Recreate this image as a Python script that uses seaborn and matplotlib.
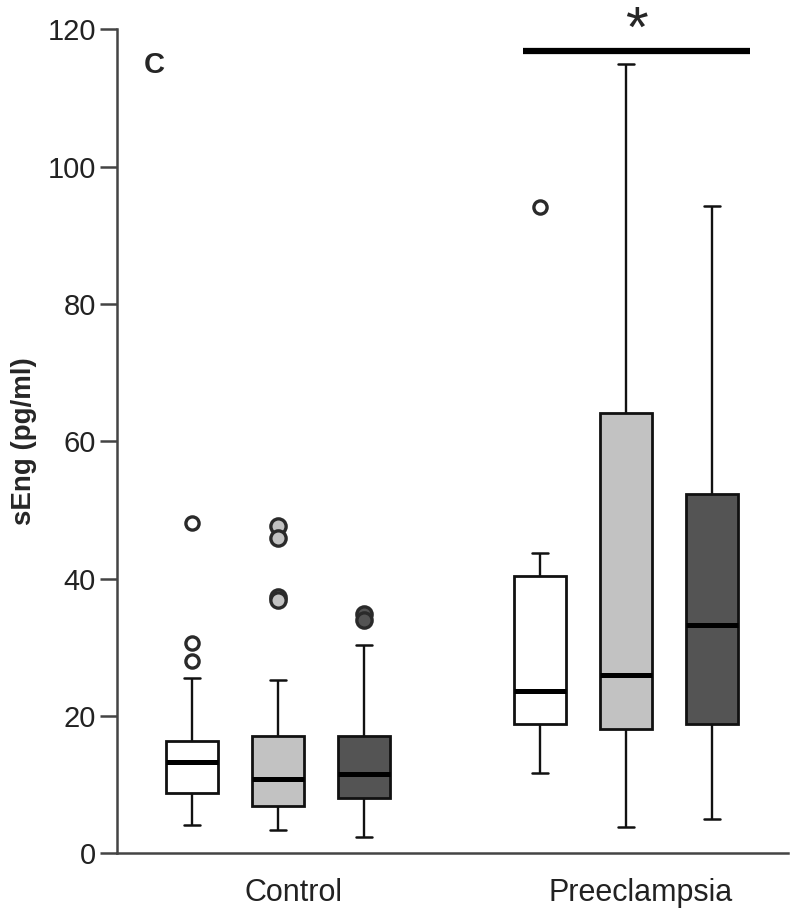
import pandas as pd
import matplotlib.pyplot as plt
import matplotlib.transforms as mtransforms
import seaborn as sns

# groups on the x axis and the three shaded series inside each group
groups = ['Control', 'Preeclampsia']
levels = ['A', 'B', 'C']
colors = ['#ffffff', '#c2c2c2', '#545454']

# five-number summaries: whisker low, q1, median, q3, whisker high
control_stats = [
    [4.1, 8.8, 13.3, 16.4, 25.6],
    [3.4, 6.9, 10.8, 17.1, 25.3],
    [2.4, 8.0, 11.5, 17.1, 30.3],
]
pe_stats = [
    [11.7, 18.8, 23.7, 40.4, 43.8],
    [3.8, 18.1, 25.9, 64.2, 115.0],
    [5.0, 18.8, 33.3, 52.4, 94.3],
]

# outliers drawn as open circles
control_outliers = [[48.1, 30.6, 28.0], [47.6, 45.9, 37.4, 36.9], [34.8, 34.0]]
pe_outliers = [[94.2], [], []]
marker_sizes = [9.5, 11, 11]

# significance bar over the preeclampsia group
sig_x = [0.704, 1.356]
sig_y = 116.8

rows = []
for g, stats in zip(groups, [control_stats, pe_stats]):
    for lev, s in zip(levels, stats):
        for v in s:
            rows.append((g, lev, v))
df = pd.DataFrame(rows, columns=['group', 'level', 'value'])

sns.set_style('ticks')
plt.rcParams['font.family'] = ['Liberation Sans', 'DejaVu Sans']

fig = plt.figure(figsize=(8, 9.19), dpi=100)
ax = fig.add_axes([0.146, 0.0715, 0.839, 0.8965])

sns.boxplot(data=df, x='group', y='value', hue='level', order=groups, hue_order=levels,
            palette=colors, saturation=1, width=0.742, gap=0.39, whis=(0, 100),
            linewidth=2.0, linecolor='#111111', legend=False, ax=ax,
            medianprops=dict(linewidth=3.6, color='black'),
            whiskerprops=dict(linewidth=1.7), capprops=dict(linewidth=1.8),
            capwidths=0.048)

# put outliers at the centre of each drawn box
boxes = sorted(ax.patches, key=lambda p: p.get_path().vertices[:, 0].min())
for box, vals, fc, ms in zip(boxes, control_outliers + pe_outliers, colors * 2, marker_sizes * 2):
    if not vals:
        continue
    xs = box.get_path().vertices[:, 0]
    xc = (xs.min() + xs.max()) / 2
    ax.plot([xc] * len(vals), vals, 'o', mfc=fc, mec='#2a2a2a', ms=ms, mew=2.4, zorder=5)

ax.plot(sig_x, [sig_y, sig_y], color='black', lw=4.5, solid_capstyle='butt', clip_on=False)
ax.text(sum(sig_x) / 2, 119.6, '*', ha='center', va='center', fontsize=42, clip_on=False)
ax.text(0.04, 0.957, 'C', transform=ax.transAxes, ha='left', va='center',
        fontsize=21, fontweight='bold')

ax.set_xlim(-0.4635, 1.4655)
ax.set_ylim(0, 120)
ax.set_yticks([0, 20, 40, 60, 80, 100, 120])
ax.set_xlabel('')
ax.set_ylabel('sEng (pg/ml)', fontsize=20, fontweight='bold')
ax.yaxis.set_label_coords(-0.119, 0.5)

sns.despine(ax=ax)
for side in ['left', 'bottom']:
    ax.spines[side].set_linewidth(1.8)
    ax.spines[side].set_color('#444444')
ax.tick_params(axis='y', length=12, width=1.8, color='#444444', labelsize=21,
               labelcolor='#222222', pad=3)
ax.tick_params(axis='x', length=0, labelsize=22, labelcolor='#222222', pad=18)

shift = mtransforms.ScaledTranslation(0.15, 0, fig.dpi_scale_trans)
for lab in ax.get_xticklabels():
    lab.set_transform(lab.get_transform() + shift)

fig.savefig('out.png', dpi=100)
